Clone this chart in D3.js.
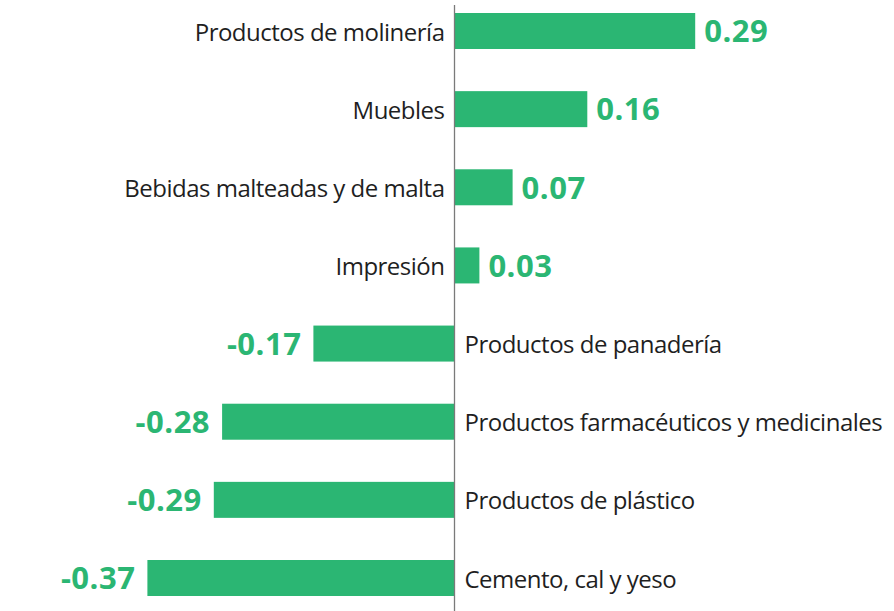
<!DOCTYPE html>
<html><head><meta charset="utf-8">
<script src="https://cdn.jsdelivr.net/npm/d3@7"></script>
<style>
html,body{margin:0;padding:0;background:#fff;}
svg{display:block;}
</style></head>
<body>
<svg id="chart" width="894" height="611"></svg>
<script>
const categories = ["Productos de molinería","Muebles","Bebidas malteadas y de malta","Impresión","Productos de panadería","Productos farmacéuticos y medicinales","Productos de plástico","Cemento, cal y yeso"];
const values = [0.29, 0.16, 0.07, 0.03, -0.17, -0.28, -0.29, -0.37];

const W = 894, H = 611;
const svg = d3.select("#chart");
const green = "#2bb673";
const zeroX = 454.5, k = 830;
const x = d3.scaleLinear().domain([-0.4, 0.3]).range([zeroX - 0.4*k, zeroX + 0.3*k]);
const y = d3.scalePoint().domain(categories).range([31, 578]);
const barH = 36;
const data = categories.map((c,i)=>({c, v: values[i]}));
const fmt = v => (v < 0 ? "-" : "") + Math.abs(v).toFixed(2);

svg.selectAll("rect.bar").data(data).enter().append("rect")
  .attr("class","bar")
  .attr("x", d => x(Math.min(0,d.v)))
  .attr("width", d => Math.abs(x(d.v) - x(0)))
  .attr("y", d => y(d.c) - barH/2)
  .attr("height", barH)
  .attr("fill", green);

svg.append("line")
  .attr("x1", x(0)).attr("x2", x(0))
  .attr("y1", 5).attr("y2", H)
  .attr("stroke", "#7a7a7a").attr("stroke-width", 1.3);

svg.selectAll("text.cat").data(data).enter().append("text")
  .attr("class","cat")
  .attr("x", d => d.v >= 0 ? x(0) - 10 : x(0) + 10)
  .attr("y", d => y(d.c))
  .attr("dy", "0.4em")
  .attr("text-anchor", d => d.v >= 0 ? "end" : "start")
  .attr("font-family", "'Open Sans', sans-serif")
  .attr("font-size", 24)
  .attr("letter-spacing", "-0.5px")
  .attr("fill", "#1f1f1f")
  .text(d => d.c);

svg.selectAll("text.val").data(data).enter().append("text")
  .attr("class","val")
  .attr("x", d => d.v >= 0 ? x(d.v) + 9 : x(d.v) - 12)
  .attr("y", d => y(d.c))
  .attr("dy", "0.365em")
  .attr("text-anchor", d => d.v >= 0 ? "start" : "end")
  .attr("font-family", "'Open Sans', sans-serif")
  .attr("font-weight", 700)
  .attr("font-size", 31)
  .attr("letter-spacing", "0.5px")
  .attr("fill", green)
  .text(d => fmt(d.v));
</script>
</body></html>
